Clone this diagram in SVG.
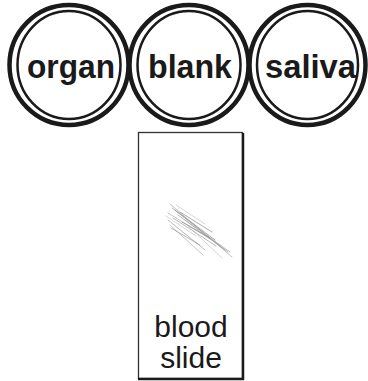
<svg xmlns="http://www.w3.org/2000/svg" width="368" height="381" viewBox="0 0 368 381">
<style>
.outer{fill:none;stroke:#1a1a1a;stroke-width:4.5}
.inner{fill:none;stroke:#1a1a1a;stroke-width:2.5}
.lbl{font-family:"Liberation Sans",Arial,sans-serif;font-weight:bold;font-size:34px;fill:#1a1a1a;text-anchor:middle}
.sl{font-family:"Liberation Sans",Arial,sans-serif;font-size:30px;fill:#1a1a1a;text-anchor:middle}
.smear{fill:none;stroke-linecap:round}
</style>
<rect width="368" height="381" fill="#fff"/>
<g id="organ">
<ellipse class="outer" cx="69" cy="65" rx="59.5" ry="60"/>
<ellipse class="inner" cx="69" cy="65" rx="51.5" ry="54"/>
<text class="lbl" x="71" y="78" textLength="88" lengthAdjust="spacingAndGlyphs">organ</text>
</g>
<g id="blank">
<ellipse class="outer" cx="189" cy="65" rx="59.5" ry="60"/>
<ellipse class="inner" cx="189" cy="65" rx="51.5" ry="54"/>
<text class="lbl" x="190" y="78" textLength="84" lengthAdjust="spacingAndGlyphs">blank</text>
</g>
<g id="saliva">
<ellipse class="outer" cx="307.5" cy="65" rx="58" ry="60"/>
<ellipse class="inner" cx="307.5" cy="65" rx="50.5" ry="54"/>
<text class="lbl" x="310.5" y="78" textLength="91" lengthAdjust="spacingAndGlyphs">saliva</text>
</g>
<g id="slide">
<rect x="138.5" y="132.5" width="104" height="246" fill="#fff" stroke="#333" stroke-width="1.3"/>
<path d="M243,133 V379 H138" fill="none" stroke="#1a1a1a" stroke-width="2.5"/>
<g class="smear">
<path d="M170,204 L232,257" stroke="#aaa" stroke-width="0.7"/>
<path d="M172,208 L228,252" stroke="#999" stroke-width="0.7"/>
<path d="M168,213 L220,245" stroke="#aaa" stroke-width="0.7"/>
<path d="M175,210 L215,240" stroke="#888" stroke-width="0.7"/>
<path d="M168,220 L205,250" stroke="#999" stroke-width="0.7"/>
<path d="M170,225 L203,255" stroke="#aaa" stroke-width="0.7"/>
<path d="M178,215 L225,250" stroke="#999" stroke-width="0.7"/>
<path d="M180,212 L212,232" stroke="#888" stroke-width="0.7"/>
<path d="M173,218 L216,246" stroke="#999" stroke-width="0.7"/>
<path d="M185,220 L230,252" stroke="#aaa" stroke-width="0.7"/>
<path d="M171,228 L200,245" stroke="#999" stroke-width="0.7"/>
<path d="M182,222 L210,238" stroke="#888" stroke-width="0.7"/>
<path d="M176,205 L205,224" stroke="#bbb" stroke-width="0.6"/>
<path d="M166,216 L196,236" stroke="#bbb" stroke-width="0.6"/>
<path d="M188,226 L222,258" stroke="#bbb" stroke-width="0.6"/>
</g>
<text class="sl" x="191" y="337">blood</text>
<text class="sl" x="191" y="368">slide</text>
</g>
</svg>
